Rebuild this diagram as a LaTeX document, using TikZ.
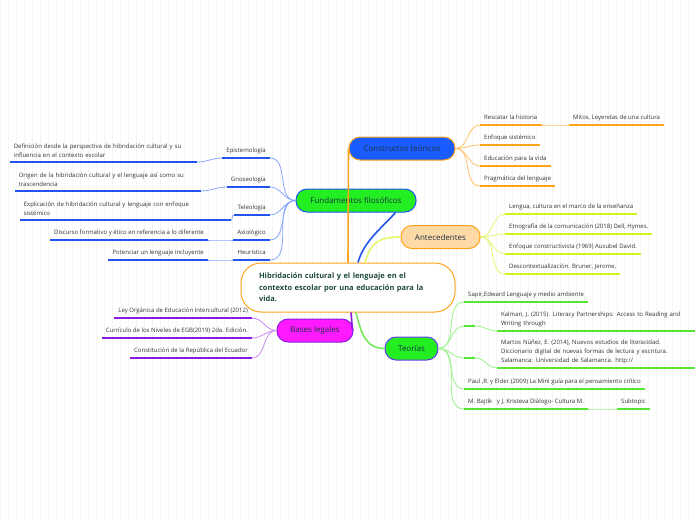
\documentclass[tikz,border=0pt]{standalone}
\usepackage{fontspec}
\setmainfont{Open Sans}
\usetikzlibrary{calc,positioning}

\definecolor{orangeL}{HTML}{FFA31A}
\definecolor{orangeT}{HTML}{FFC266}
\definecolor{blueF}{HTML}{1A5CFF}
\definecolor{blueL}{HTML}{2255EE}
\definecolor{blueT}{HTML}{88A8FF}
\definecolor{greenF}{HTML}{22EE22}
\definecolor{greenL}{HTML}{55E633}
\definecolor{greenT}{HTML}{9AF28A}
\definecolor{yellowL}{HTML}{D6F21A}
\definecolor{yellowT}{HTML}{E6F870}
\definecolor{peachF}{HTML}{FFDAA6}
\definecolor{magF}{HTML}{FF1AFF}
\definecolor{purpleL}{HTML}{8A1AE0}
\definecolor{purpleT}{HTML}{C88CF0}
\definecolor{violetB}{HTML}{6A3CF0}
\definecolor{topictxt}{HTML}{1A3340}
\definecolor{centretxt}{HTML}{1E4A3A}
\definecolor{leaftxt}{HTML}{333333}

\begin{document}
\begin{tikzpicture}[x=1pt,y=-1pt,font=\fontsize{6}{9}\selectfont,
  topic/.style={rounded corners=11pt,minimum height=23pt,line width=1pt,
    inner xsep=4pt,font=\fontsize{8}{10}\selectfont,text=topictxt},
  leafR/.style={anchor=south west,inner xsep=4pt,inner ysep=3pt,text depth=2pt,text=leaftxt,align=left},
  leafL/.style={anchor=south east,inner xsep=4pt,inner ysep=3pt,text depth=2pt,text=leaftxt,align=left},
  wideleaf/.style={leafR,text width=190pt,text depth={},inner ysep=4pt},
  wideleafL/.style={leafL,text width=#1,text depth={},inner ysep=4pt},
  thinC/.style={line width=0.8pt},
  ulC/.style={line width=1.8pt},
  mainC/.style={line width=1.6pt}]
  \useasboundingbox (0,0) rectangle (696,520);
  \fill[white] (0,0) rectangle (696,520);
  \draw[black!4,line width=0.4pt,step=8] (0,0) grid (696,520);

  % --- centre ---
  \node[draw=orangeL,fill=white,line width=1pt,rounded corners=20pt,minimum width=214pt,minimum height=49pt,
    text width=178pt,align=left,inner xsep=18pt,text=centretxt,font=\fontsize{7.5}{11.5}\selectfont\bfseries]
    (centre) at (348,287.5) {Hibridación cultural y el lenguaje en el\\contexto escolar  por una educación para la\\vida.};

  % --- main topics ---
  \node[topic,draw=orangeL,fill=blueF,minimum width=106pt] (constr) at (402,148.5) {Constructos teóricos};
  \node[topic,draw=blueL,fill=greenF,minimum width=120pt] (fund) at (356,200.5) {Fundamentos filosóficos};
  \node[topic,draw=orangeL,fill=peachF,minimum width=79pt] (ant) at (440.5,237) {Antecedentes};
  \node[topic,draw=purpleL,fill=magF,minimum width=76pt] (bases) at (315,330.5) {Bases legales};
  \node[topic,draw=violetB,fill=greenF,minimum width=53pt] (teo) at (411.5,348.5) {Teorías};

  \draw[mainC,orangeL] (centre.north) -- (constr.west);
  \draw[mainC,blueL] ([xshift=10pt]centre.north) .. controls +(6,-22) and +(-12,14) .. ([xshift=-21pt]fund.south east);
  \draw[mainC,yellowT] ([xshift=17pt]centre.north) .. controls +(6,-20) and +(-22,0) .. (ant.west);
  \draw[mainC,purpleL] ([xshift=3pt]centre.south) -- ([xshift=-1pt]bases.east);
  \draw[mainC,greenL!80] ([xshift=8pt]centre.south) .. controls +(6,26) and +(-16,0) .. (teo.west);

  % --- constructos teoricos ---
  \node[leafR] (resc) at (480,125) {Rescatar la historia};
  \node[leafR] (mitos) at (569,125) {Mitos,  Leyendas de una cultura};
  \node[leafR] (enf) at (480,145) {Enfoque  sistémico};
  \node[leafR] (educ) at (480,166) {Educación para la vida};
  \node[leafR] (prag) at (480,186) {Pragmática del lenguaje};
  \foreach \n in {resc,enf,educ,prag}
    \draw[thinC,orangeT] (constr.east) to[out=0,in=180] (\n.south west);
  \draw[thinC,orangeT] (resc.south east) to[out=0,in=180] (mitos.south west);
  \foreach \n in {resc,mitos,enf,educ,prag}
    \draw[ulC,orangeL] (\n.south west) -- (\n.south east);

  % --- antecedentes ---
  \node[leafR] (len) at (505,214) {Lengua, cultura  en el marco de la enseñanza};
  \node[leafR] (etn) at (505,234) {Etnografía de la  comunicación (2018) Dell, Hymes.};
  \node[leafR] (cons) at (505,254) {Enfoque constructivista (1969) Ausubel David.};
  \node[leafR] (desc) at (505,274) {Descontextualización. Bruner, Jerome,};
  \foreach \n in {len,etn,cons,desc} {
    \draw[thinC,yellowT] (ant.east) to[out=0,in=180] (\n.south west);
    \draw[ulC,yellowL] (\n.south west) -- (\n.south east);
  }

  % --- teorias ---
  \node[leafR] (sapir) at (464,302) {Sapir,Edward Lenguaje y medio ambiente};
  \node[leafR,minimum width=11pt] (teoA) at (464,326) {};
  \node[wideleaf] (kalman) at (497,331)
    {Kalman, J. (2015). Literacy Partnerships: Access to Reading and\\Writing through};
  \node[leafR,minimum width=11pt] (teoB) at (464,358) {};
  \node[wideleaf] (martos) at (497,368)
    {Martos Núñez, E. (2014), Nuevos estudios de literacidad.\\Diccionario digital de nuevas formas de lectura y escritura.\\Salamanca: Universidad de Salamanca. http://};
  \node[leafR] (paul) at (464,389) {Paul ,R. y Elder.(2009) La Mini guía para el pensamiento crítico};
  \node[leafR] (bajtik) at (464,409) {M. Bajtik \ \ y J. Kristeva Diálogo- Cultura M.};
  \node[leafR] (subt) at (617,409) {Subtopic};
  \foreach \n in {sapir,teoA,teoB,paul,bajtik}
    \draw[thinC,greenT] (teo.east) to[out=0,in=180] (\n.south west);
  \draw[thinC,greenT] (teoA.south east) to[out=0,in=180] (kalman.south west);
  \draw[thinC,greenT] (teoB.south east) to[out=0,in=180] (martos.south west);
  \draw[thinC,greenT] (bajtik.south east) to[out=0,in=180] (subt.south west);
  \foreach \n in {sapir,teoA,kalman,teoB,martos,paul,bajtik,subt}
    \draw[ulC,greenL] (\n.south west) -- (\n.south east);

  % --- fundamentos filosoficos ---
  \node[leafL] (epi) at (270,158) {Epistemología};
  \node[leafL] (gno) at (270,187) {Gnoseología};
  \node[leafL] (tel) at (270,215) {Teleología};
  \node[leafL] (axi) at (270,240) {Axiológico};
  \node[leafL] (heu) at (270,260) {Heurística};
  \node[wideleafL=179pt] (defi) at (197,162)
    {Definición desde la perspectiva de  hibridación cultural  y su\\influencia en el contexto escolar};
  \node[wideleafL=178pt] (orig) at (201,191)
    {Origen de la hibridación cultural y el lenguaje  así como su\\trascendencia};
  \node[wideleafL=203pt] (expl) at (231,220)
    {Explicación de hibridación cultural y lenguaje con enfoque\\sistémico};
  \node[leafL] (disc) at (208,240) {Discurso formativo y ético  en referencia  a lo diferente};
  \node[leafL] (pot) at (208,260) {Potenciar  un lenguaje incluyente};
  \foreach \n in {epi,gno,tel,axi,heu}
    \draw[thinC,blueT] (fund.west) to[out=180,in=0] (\n.south east);
  \draw[thinC,blueT] (epi.south west) to[out=180,in=0] (defi.south east);
  \draw[thinC,blueT] (gno.south west) to[out=180,in=0] (orig.south east);
  \draw[thinC,blueT] (tel.south west) to[out=180,in=0] (expl.south east);
  \draw[thinC,blueT] (axi.south west) to[out=180,in=0] (disc.south east);
  \draw[thinC,blueT] (heu.south west) to[out=180,in=0] (pot.south east);
  \foreach \n in {epi,gno,tel,axi,heu,defi,orig,expl,disc,pot}
    \draw[ulC,blueL] (\n.south west) -- (\n.south east);

  % --- bases legales ---
  \node[leafL] (ley) at (252,318) {Ley Orgánica de Educación Intercultural (2012)};
  \node[leafL] (curr) at (252,338) {Currículo de los Niveles de EGB(2019) 2da. Edición.};
  \node[leafL] (const) at (252,358) {Constitución de la República del Ecuador};
  \foreach \n in {ley,curr,const} {
    \draw[thinC,purpleT] (bases.west) to[out=180,in=0] (\n.south east);
    \draw[ulC,purpleL] (\n.south west) -- (\n.south east);
  }
\end{tikzpicture}
\end{document}
